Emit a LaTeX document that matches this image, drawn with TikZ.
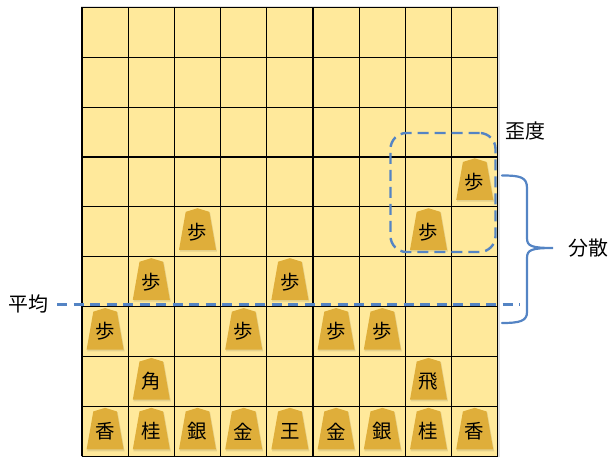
\documentclass[tikz,border=0pt]{standalone}
\usepackage{fontspec}
\setmainfont{Noto Sans CJK JP}
\definecolor{boardyellow}{RGB}{255,233,155}
\definecolor{piecegold}{RGB}{223,174,58}
\definecolor{accentblue}{RGB}{84,132,196}
\newcommand{\shogipiece}[3]{%
  \begin{scope}[shift={({82+(#1-0.5)*46.2},{7.3+(#2-0.5)*49.9})}]
    \fill[black,opacity=0.10] (0.8,-23) -- (12.6,-19.3) -- (19.5,19.8) -- (-17.9,19.8) -- (-11,-19.3) -- cycle;
    \fill[piecegold] (0,-23.6) -- (11.8,-20) -- (18.5,18) -- (-18.5,18) -- (-11.8,-20) -- cycle;
    \node[ptext] (p-#1-#2) at (0,0) {#3};
  \end{scope}}
\begin{document}
\begin{tikzpicture}[x=1bp,y=-1bp,
  gridline/.style={draw=black,line width=1.1bp},
  ptext/.style={font=\fontsize{19.5}{19.5}\selectfont,text=black,inner sep=0pt},
  lbl/.style={font=\fontsize{20}{20}\selectfont,text=black,inner sep=0pt},
  bluedash/.style={draw=accentblue,line width=2.4bp,dash pattern=on 11bp off 6bp},
  bluesolid/.style={draw=accentblue,line width=2.2bp,line cap=round}]
\useasboundingbox (0,0) rectangle (611,457);
% board
\fill[black,opacity=0.12] (80.5,6) rectangle (499.5,457);
\fill[boardyellow] (82,7.3) rectangle (497.8,456.4);
\foreach \i in {0,...,9} {
  \draw[gridline] ({82+\i*46.2},7.3) -- ({82+\i*46.2},456.4);
  \draw[gridline] (82,{7.3+\i*49.9}) -- (497.8,{7.3+\i*49.9});
}
% pieces
\shogipiece{9}{4}{歩}
\shogipiece{3}{5}{歩}
\shogipiece{8}{5}{歩}
\shogipiece{2}{6}{歩}
\shogipiece{5}{6}{歩}
\shogipiece{1}{7}{歩}
\shogipiece{4}{7}{歩}
\shogipiece{6}{7}{歩}
\shogipiece{7}{7}{歩}
\shogipiece{2}{8}{角}
\shogipiece{8}{8}{飛}
\shogipiece{1}{9}{香}
\shogipiece{2}{9}{桂}
\shogipiece{3}{9}{銀}
\shogipiece{4}{9}{金}
\shogipiece{5}{9}{王}
\shogipiece{6}{9}{金}
\shogipiece{7}{9}{銀}
\shogipiece{8}{9}{桂}
\shogipiece{9}{9}{香}
% skewness box
\node[bluedash,rounded corners=16bp,minimum width=105bp,minimum height=119bp,inner sep=0pt] (skewbox) at (443,192.5) {};
\node[lbl] (skew) at (525.5,131) {歪度};
% mean line
\node[lbl] (mean) at (28,304) {平均};
\coordinate (meanL) at (57,304.5);
\coordinate (meanR) at (520,304.5);
\draw[bluedash,dash pattern=on 10bp off 6.5bp] (meanL) -- (meanR);
% variance brace
\coordinate (brTop) at (502,175.5);
\coordinate (brTip) at (553,248);
\coordinate (brBot) at (502,323);
\draw[bluesolid] (brTop) .. controls (520,175.5) and (527,177) .. (527,188)
  -- (527,238) .. controls (527,246) and (531,248) .. (brTip)
  .. controls (531,248) and (527,250) .. (527,258)
  -- (527,312) .. controls (527,321) and (520,323) .. (brBot);
\node[lbl] (var) at (588,248) {分散};
\end{tikzpicture}
\end{document}
